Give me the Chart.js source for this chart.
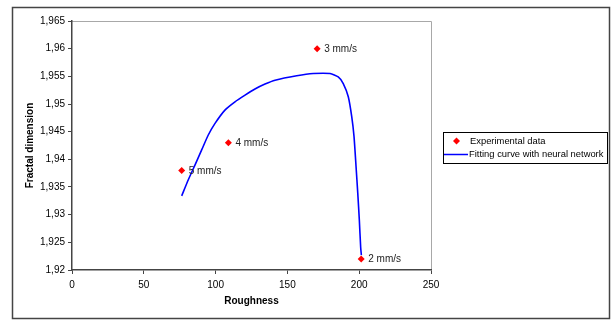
<!DOCTYPE html>
<html>
<head>
<meta charset="utf-8">
<script src="https://cdn.jsdelivr.net/npm/chart.js@4"></script>
<style>
  html, body { margin: 0; padding: 0; background: #fff; }
  #wrap { position: relative; width: 611px; height: 320px; }
</style>
</head>
<body>
<div id="wrap"><canvas id="chart" width="611" height="320"></canvas></div>
<script>
// experimental points
const expRoughness = [76.4, 108.9, 170.7, 201.4];
const expFractal = [1.938, 1.943, 1.960, 1.922];
const expLabels = ['5 mm/s', '4 mm/s', '3 mm/s', '2 mm/s'];

// neural network fitting curve
const fitRoughness = [76.4, 81.0, 85.7, 90.3, 94.9, 99.6, 106.5, 113.5, 120.5, 127.4, 134.4, 141.4, 156.5, 168.0, 179.7, 185.4, 188.9, 192.4, 194.8, 196.4, 197.8, 199.0, 200.1, 201.0, 201.5];
const fitFractal = [1.9334, 1.9363, 1.9390, 1.9417, 1.9444, 1.9465, 1.9489, 1.9504, 1.9516, 1.9527, 1.9536, 1.9543, 1.9551, 1.9555, 1.9555, 1.9549, 1.9537, 1.9513, 1.9477, 1.9441, 1.9387, 1.9339, 1.9290, 1.9242, 1.9227];

const seriesNames = ['Experimental data', 'Fitting curve with neural network'];

const FONT = 'Arial, "Liberation Sans", sans-serif';
Chart.defaults.font.family = FONT;
Chart.defaults.font.size = 10;
Chart.defaults.color = '#000';

const frame = {
    id: 'frame',
    beforeDraw(chart) {
        const ctx = chart.ctx;
        const a = chart.chartArea;
        ctx.save();
        ctx.fillStyle = '#fff';
        ctx.fillRect(0, 0, chart.width, chart.height);
        ctx.strokeStyle = '#444';
        ctx.lineWidth = 1.5;
        ctx.strokeRect(12.5, 7.5, 597, 311);
        ctx.strokeStyle = '#a8a8a8';
        ctx.lineWidth = 1;
        ctx.beginPath();
        ctx.moveTo(a.left, a.top + 0.5);
        ctx.lineTo(a.right + 0.5, a.top + 0.5);
        ctx.lineTo(a.right + 0.5, a.bottom);
        ctx.stroke();
        ctx.restore();
    },
    afterDatasetsDraw(chart) {
        const ctx = chart.ctx;
        const meta = chart.getDatasetMeta(0);
        ctx.save();
        ctx.font = '10px ' + FONT;
        ctx.fillStyle = '#222';
        ctx.textBaseline = 'middle';
        meta.data.forEach((pt, i) => {
            ctx.fillText(expLabels[i], pt.x + 7, pt.y + 0.5);
        });

        // legend box
        const lx = 443, ly = 132, lw = 164, lh = 31;
        ctx.strokeStyle = '#000';
        ctx.lineWidth = 1;
        ctx.strokeRect(lx + 0.5, ly + 0.5, lw, lh);
        ctx.fillStyle = 'red';
        ctx.beginPath();
        const dx = 456.5, dy = 141;
        ctx.moveTo(dx, dy - 3.5);
        ctx.lineTo(dx + 3.5, dy);
        ctx.lineTo(dx, dy + 3.5);
        ctx.lineTo(dx - 3.5, dy);
        ctx.closePath();
        ctx.fill();
        ctx.strokeStyle = '#0000ff';
        ctx.lineWidth = 1.5;
        ctx.beginPath();
        ctx.moveTo(444, 154.5);
        ctx.lineTo(468, 154.5);
        ctx.stroke();
        ctx.fillStyle = '#000';
        ctx.font = '9.4px ' + FONT;
        ctx.fillText(seriesNames[0], 470, 141);
        ctx.fillText(seriesNames[1], 469, 154.5);
        ctx.restore();
    }
};

const fmt = v => Number(v.toFixed(3)).toString().replace('.', ',');

new Chart(document.getElementById('chart'), {
    type: 'scatter',
    data: {
        datasets: [
            {
                label: seriesNames[0],
                data: expRoughness.map((x, i) => ({ x, y: expFractal[i] })),
                pointStyle: 'rectRot',
                pointRadius: 3.5,
                backgroundColor: 'red',
                borderColor: 'red',
                borderWidth: 0
            },
            {
                label: seriesNames[1],
                data: fitRoughness.map((x, i) => ({ x, y: fitFractal[i] })),
                showLine: true,
                pointRadius: 0,
                borderColor: '#0000ff',
                borderWidth: 1.6,
                tension: 0.2
            }
        ]
    },
    options: {
        responsive: false,
        animation: false,
        layout: { padding: { left: 0, top: 21, right: 180, bottom: 0 } },
        plugins: {
            legend: { display: false },
            tooltip: { enabled: false }
        },
        scales: {
            x: {
                type: 'linear',
                min: 0,
                max: 250,
                ticks: { stepSize: 50, padding: 5, maxRotation: 0 },
                grid: { drawOnChartArea: false, tickLength: 4, color: '#444' },
                border: { color: '#444', width: 1.5 },
                title: {
                    display: true,
                    text: 'Roughness',
                    font: { size: 10, weight: 'bold' },
                    padding: { top: 0, bottom: 13 }
                },
                afterFit(scale) { scale.height = 50; }
            },
            y: {
                type: 'linear',
                min: 1.92,
                max: 1.965,
                ticks: { stepSize: 0.005, padding: 3, callback: v => fmt(v) },
                grid: { drawOnChartArea: false, tickLength: 4, color: '#444' },
                border: { color: '#444', width: 1.5 },
                title: {
                    display: true,
                    text: 'Fractal dimension',
                    font: { size: 10, weight: 'bold' },
                    padding: { top: 24, bottom: 0 }
                },
                afterFit(scale) { scale.width = 72; }
            }
        }
    },
    plugins: [frame]
});
</script>
</body>
</html>
